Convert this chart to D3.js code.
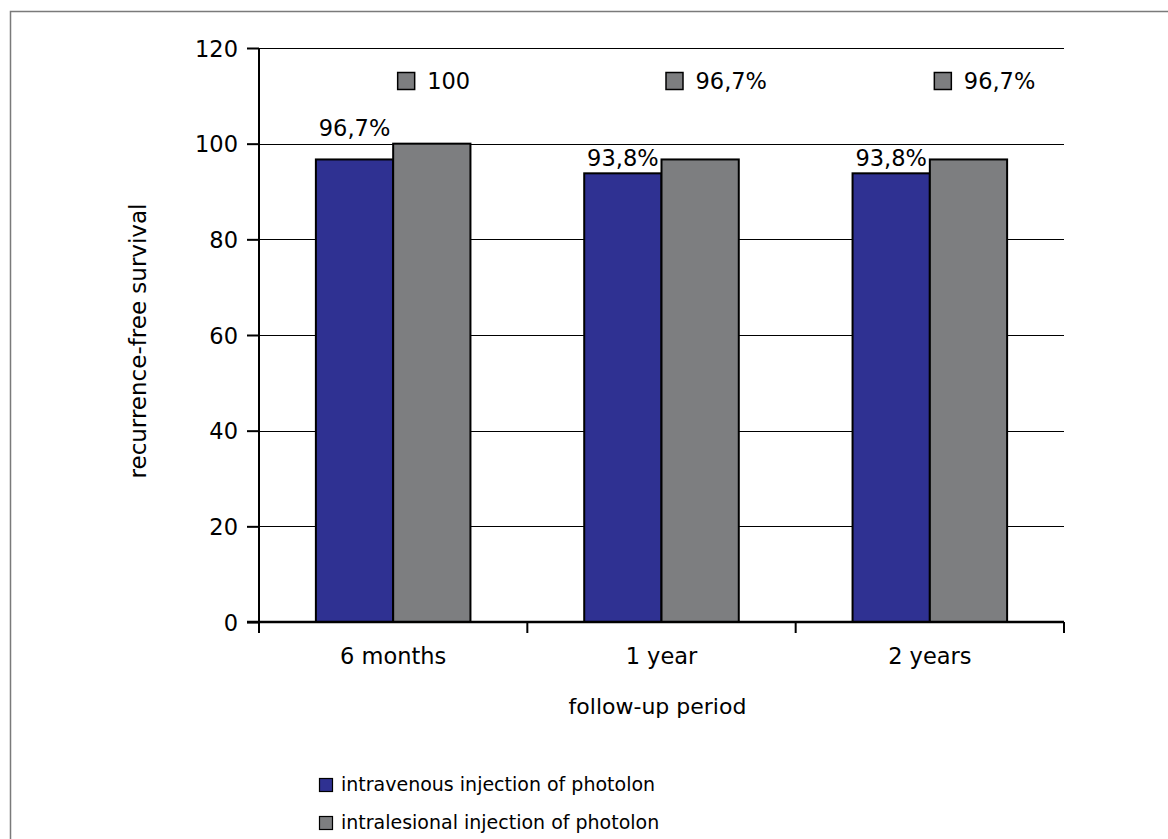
<!DOCTYPE html>
<html>
<head>
<meta charset="utf-8">
<script src="https://cdn.jsdelivr.net/npm/d3@7"></script>
<style>
  html, body { margin: 0; padding: 0; background: #fff; }
  svg text { font-family: "DejaVu Sans", Verdana, sans-serif; fill: #000; }
</style>
</head>
<body>
<svg id="chart" width="1168" height="839"></svg>
<script>
// ---- data ----
const categories = ["6 months", "1 year", "2 years"];
const seriesNames = ["intravenous injection of photolon", "intralesional injection of photolon"];
const intravenous = [96.7, 93.8, 93.8];
const intralesional = [100, 96.7, 96.7];
const intravenousLabels = ["96,7%", "93,8%", "93,8%"];
const intralesionalLabels = ["100", "96,7%", "96,7%"];
const yTicks = [0, 20, 40, 60, 80, 100, 120];
const xTitle = "follow-up period";
const yTitle = "recurrence-free survival";

// ---- layout (not data) ----
const colors = ["#2f3192", "#7d7e80"];
const blueLabelLift = [23, 7, 7];

const svg = d3.select("#chart");
const margin = { left: 259, right: 1064, top: 48, bottom: 622 };

// outer frame
svg.append("rect")
  .attr("x", 10.5).attr("y", 11.5)
  .attr("width", 1300).attr("height", 1000)
  .attr("fill", "none").attr("stroke", "#7a7a7a").attr("stroke-width", 1.5);

const x = d3.scaleBand().domain(categories).range([margin.left, margin.right]).padding(0);
const y = d3.scaleLinear().domain([0, 120]).range([margin.bottom, margin.top]);
const bw = x.bandwidth();
const x1 = d3.scaleBand().domain([0, 1]).range([bw * 0.212, bw * 0.788]).padding(0);

// gridlines
svg.append("g").selectAll("line")
  .data(yTicks.filter(t => t > 0))
  .join("line")
  .attr("x1", margin.left).attr("x2", margin.right)
  .attr("y1", d => Math.round(y(d)) + 0.5).attr("y2", d => Math.round(y(d)) + 0.5)
  .attr("stroke", "#000").attr("stroke-width", 1.2);

// bars
const series = [intravenous, intralesional];
series.forEach((vals, si) => {
  svg.append("g").selectAll("rect")
    .data(vals)
    .join("rect")
    .attr("x", (d, i) => x(categories[i]) + x1(si))
    .attr("y", d => y(d))
    .attr("width", x1.bandwidth())
    .attr("height", d => y(0) - y(d))
    .attr("fill", colors[si])
    .attr("stroke", "#000").attr("stroke-width", 2);
});

// y axis
const yAxis = d3.axisLeft(y).tickValues(yTicks).tickSize(12).tickPadding(9).tickFormat(d3.format("d"));
const gy = svg.append("g").attr("transform", `translate(${margin.left},0)`).call(yAxis);
gy.select(".domain").remove();
gy.selectAll(".tick line").attr("stroke", "#000").attr("stroke-width", 2);
gy.selectAll(".tick text").style("font-size", "22.5px").attr("dy", "0.36em");
svg.append("line")
  .attr("x1", margin.left).attr("x2", margin.left)
  .attr("y1", margin.top).attr("y2", margin.bottom + 11)
  .attr("stroke", "#000").attr("stroke-width", 2);

// x axis
svg.append("line")
  .attr("x1", margin.left - 12).attr("x2", margin.right)
  .attr("y1", margin.bottom).attr("y2", margin.bottom)
  .attr("stroke", "#000").attr("stroke-width", 2.5);
const boundaries = categories.map(c => x(c)).concat([x(categories[categories.length - 1]) + bw]);
svg.append("g").selectAll("line")
  .data(boundaries.slice(1))
  .join("line")
  .attr("x1", d => d).attr("x2", d => d)
  .attr("y1", margin.bottom).attr("y2", margin.bottom + 11)
  .attr("stroke", "#000").attr("stroke-width", 2);
svg.append("g").selectAll("text")
  .data(categories)
  .join("text")
  .attr("x", d => x(d) + bw / 2)
  .attr("y", 664)
  .attr("text-anchor", "middle")
  .style("font-size", "22.5px")
  .text(d => d);

// titles
svg.append("text")
  .attr("x", (margin.left + margin.right) / 2 - 4)
  .attr("y", 714)
  .attr("text-anchor", "middle")
  .style("font-size", "22px")
  .text(xTitle);
svg.append("text")
  .attr("transform", `translate(146,${(margin.top + margin.bottom) / 2 + 6}) rotate(-90)`)
  .attr("text-anchor", "middle")
  .style("font-size", "23px")
  .text(yTitle);

// intravenous value labels
svg.append("g").selectAll("text")
  .data(intravenous)
  .join("text")
  .attr("x", (d, i) => x(categories[i]) + x1(0) + x1.bandwidth() / 2)
  .attr("y", (d, i) => y(d) - blueLabelLift[i])
  .attr("text-anchor", "middle")
  .style("font-size", "22.5px")
  .text((d, i) => intravenousLabels[i]);

// intralesional value labels (with legend-key squares) at top
const topG = svg.append("g").selectAll("g")
  .data(intralesional)
  .join("g")
  .attr("transform", (d, i) => `translate(${x(categories[i]) + bw / 2 + 4},72)`);
topG.append("rect")
  .attr("x", 0.5).attr("y", 0.5).attr("width", 17).attr("height", 17)
  .attr("fill", colors[1]).attr("stroke", "#000").attr("stroke-width", 1.5);
topG.append("text")
  .attr("x", 30).attr("y", 16.5)
  .style("font-size", "22.5px")
  .text((d, i) => intralesionalLabels[i]);

// legend
const leg = svg.append("g").selectAll("g")
  .data(seriesNames)
  .join("g")
  .attr("transform", (d, i) => `translate(319,${778 + i * 38})`);
leg.append("rect")
  .attr("x", 0.5).attr("y", 0.5).attr("width", 13).attr("height", 13)
  .attr("fill", (d, i) => colors[i]).attr("stroke", "#000").attr("stroke-width", 1.2);
leg.append("text")
  .attr("x", 22).attr("y", 12.5)
  .style("font-size", "19px")
  .text(d => d);
</script>
</body>
</html>
